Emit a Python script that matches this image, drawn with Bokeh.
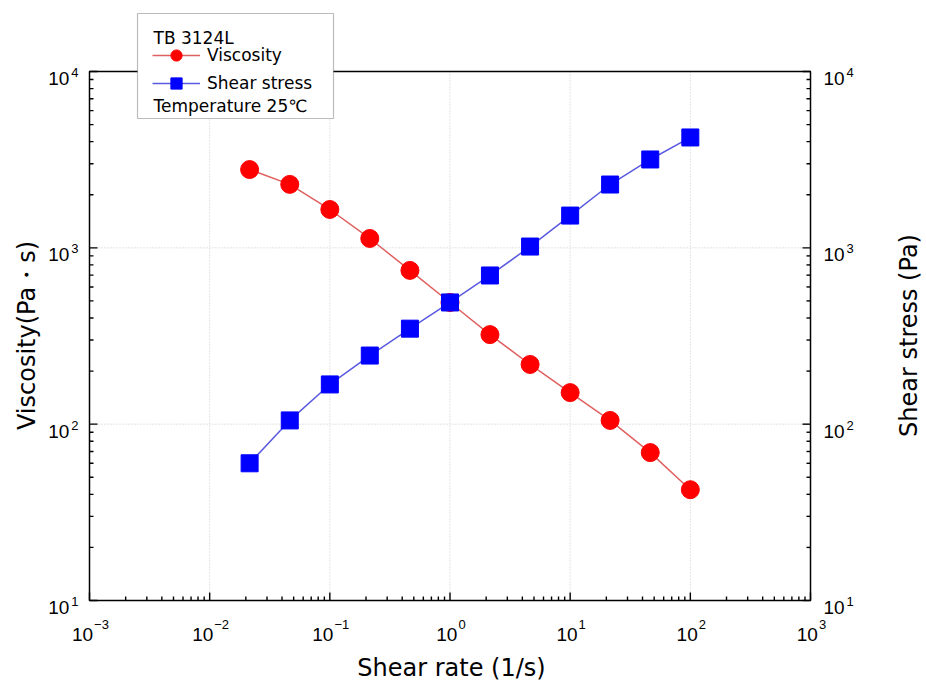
import math
from bokeh.plotting import figure
from bokeh.models import (Range1d, Label, BoxAnnotation, Legend, LegendItem, ColumnDataSource)
from bokeh.core.properties import value
from bokeh.embed import file_html
from bokeh.resources import INLINE

# ---- data ----
shear_rate = [0.0215, 0.0464, 0.1, 0.215, 0.464, 1.0, 2.15, 4.64, 10.0, 21.5, 46.4, 100.0]
viscosity = [2780, 2290, 1650, 1130, 745, 490, 322, 218, 151, 105, 69, 42.5]
shear_stress = [60, 105, 168, 245, 348, 490, 697, 1017, 1524, 2286, 3170, 4226]

x_decades = [-3, -2, -1, 0, 1, 2, 3]     # tick exponents, shear rate axis
y_decades = [1, 2, 3, 4]                 # tick exponents, both vertical axes

x_label = "Shear rate (1/s)"
y_left_label = "Viscosity(Pa・s)"
y_right_label = "Shear stress (Pa)"
legend_title = "TB 3124L"
legend_footer = "Temperature 25℃"
series_names = ["Viscosity", "Shear stress"]

# ---- layout (pixels) ----
W, H = 924, 685
FL, FR, FT, FB = 89, 810, 71, 600          # plotting box edges on the canvas
X_MIN, X_MAX = 10.0 ** x_decades[0], 10.0 ** x_decades[-1]
Y_MIN, Y_MAX = 10.0 ** y_decades[0], 10.0 ** y_decades[-1]
dx = (FR - FL) / (x_decades[-1] - x_decades[0])
dy = (FB - FT) / (y_decades[-1] - y_decades[0])
x_start = 10 ** (x_decades[0] - FL / dx)
x_end = 10 ** (x_decades[0] + (W - FL) / dx)
y_end = 10 ** (y_decades[-1] + FT / dy)
y_start = 10 ** (y_decades[-1] - (H - FT) / dy)

LABEL_FONT = "DejaVu Sans"
TICK_FONT = "Liberation Sans"

p = figure(width=W, height=H, x_axis_type="log", y_axis_type="log",
           x_range=Range1d(x_start, x_end), y_range=Range1d(y_start, y_end),
           x_axis_location=None, y_axis_location=None,
           output_backend="svg", toolbar_location=None, min_border=0)
p.outline_line_color = None
p.background_fill_color = "white"
p.border_fill_color = "white"
for g in p.grid:
    g.visible = False

# ---- grid (dotted, at decades) ----
xg = [10.0 ** k for k in x_decades]
yg = [10.0 ** k for k in y_decades]
p.segment(x0=xg, x1=xg, y0=[Y_MIN] * len(xg), y1=[Y_MAX] * len(xg),
          line_color="#c8c8c8", line_dash="1 2", line_width=1)
p.segment(x0=[X_MIN] * len(yg), x1=[X_MAX] * len(yg), y0=yg, y1=yg,
          line_color="#c8c8c8", line_dash="1 2", line_width=1)

# ---- ticks ----
MAJ, MIN_ = 8, 4
xminor = [m * 10.0 ** k for k in x_decades[:-1] for m in range(2, 10)]
yminor = [m * 10.0 ** k for k in y_decades[:-1] for m in range(2, 10)]

def vticks(xs, length):
    n = len(xs)
    p.segment(x0=xs, x1=xs, y0=[Y_MIN] * n, y1=[Y_MIN * 10 ** (length / dy)] * n,
              line_color="black", line_width=1.4)

def lticks(ys, length):
    n = len(ys)
    p.segment(x0=[X_MIN] * n, x1=[X_MIN * 10 ** (length / dx)] * n, y0=ys, y1=ys,
              line_color="black", line_width=1.4)
    p.segment(x0=[X_MAX] * n, x1=[X_MAX / 10 ** (length / dx)] * n, y0=ys, y1=ys,
              line_color="black", line_width=1.4)

vticks(xg, MAJ); vticks(xminor, MIN_)
lticks(yg, MAJ); lticks(yminor, MIN_)

# ---- box ----
p.quad(left=[X_MIN], right=[X_MAX], bottom=[Y_MIN], top=[Y_MAX],
       fill_color=None, line_color="black", line_width=1.5)

# ---- tick labels (10 with superscript exponent) ----
def exp_text(k):
    return ("−" if k < 0 else "") + str(abs(k))

def exp_width(k):
    return 7.2 * len(str(abs(k))) + (7.6 if k < 0 else 0)

tick_kw = dict(text_baseline="middle", text_color="black", text_font=value(TICK_FONT))

# bottom
bx = [10.0 ** k for k in x_decades]
b_base = ColumnDataSource(dict(x=bx, y=[Y_MIN] * len(bx), t=["10"] * len(bx),
                               xo=[11 - exp_width(k) / 2 for k in x_decades]))
b_exp = ColumnDataSource(dict(x=bx, y=[Y_MIN] * len(bx), t=[exp_text(k) for k in x_decades],
                              xo=[12 - exp_width(k) / 2 for k in x_decades]))
p.text(x="x", y="y", text="t", source=b_base, x_offset="xo", y_offset=34,
       text_align="right", text_font_size="19px", **tick_kw)
p.text(x="x", y="y", text="t", source=b_exp, x_offset="xo", y_offset=24,
       text_align="left", text_font_size="13px", **tick_kw)

# left
ly = [10.0 ** k for k in y_decades]
l_base = ColumnDataSource(dict(x=[X_MIN] * len(ly), y=ly, t=["10"] * len(ly),
                               xo=[-13 - exp_width(k) for k in y_decades]))
l_exp = ColumnDataSource(dict(x=[X_MIN] * len(ly), y=ly, t=[exp_text(k) for k in y_decades]))
p.text(x="x", y="y", text="t", source=l_base, x_offset="xo", y_offset=7,
       text_align="right", text_font_size="19px", **tick_kw)
p.text(x="x", y="y", text="t", source=l_exp, x_offset=-11, y_offset=1,
       text_align="right", text_font_size="13px", **tick_kw)

# right
r_base = ColumnDataSource(dict(x=[X_MAX] * len(ly), y=ly, t=["10"] * len(ly)))
r_exp = ColumnDataSource(dict(x=[X_MAX] * len(ly), y=ly, t=[exp_text(k) for k in y_decades]))
p.text(x="x", y="y", text="t", source=r_base, x_offset=13, y_offset=7,
       text_align="left", text_font_size="19px", **tick_kw)
p.text(x="x", y="y", text="t", source=r_exp, x_offset=36, y_offset=1,
       text_align="left", text_font_size="13px", **tick_kw)

# ---- series ----
r_line = p.line(shear_rate, viscosity, line_color="#e06060", line_width=1.5)
r_pts = p.scatter(shear_rate, viscosity, marker="circle", size=18,
                  fill_color="#ff0000", line_color="#ff0000")
b_line = p.line(shear_rate, shear_stress, line_color="#5a5ae0", line_width=1.5)
b_pts = p.scatter(shear_rate, shear_stress, marker="square", size=17,
                  fill_color="#0000ff", line_color="#0000ff")

# ---- axis labels ----
lab_kw = dict(x_units="screen", y_units="screen", text_font=LABEL_FONT,
              text_color="black", text_align="center", text_baseline="middle")
p.add_layout(Label(x=451, y=H - 667, text=x_label, text_font_size="24px", **lab_kw))
p.add_layout(Label(x=26, y=H - 335, text=y_left_label, angle=math.pi / 2,
                   text_font_size="24px", **lab_kw))
p.add_layout(Label(x=908, y=H - 335, text=y_right_label, angle=math.pi / 2,
                   text_font_size="24px", **lab_kw))

# ---- legend box ----
box = BoxAnnotation(left=137, right=333, top=H - 13, bottom=H - 118,
                    left_units="screen", right_units="screen",
                    top_units="screen", bottom_units="screen",
                    fill_color="white", fill_alpha=1.0,
                    line_color="#222222", line_width=1.2)
p.add_layout(box)
p.add_layout(Label(x=153, y=H - 37, x_units="screen", y_units="screen", text=legend_title,
                   text_font=LABEL_FONT, text_font_size="17px", text_color="black",
                   text_align="left", text_baseline="middle"))
p.add_layout(Label(x=153, y=H - 105, x_units="screen", y_units="screen", text=legend_footer,
                   text_font=LABEL_FONT, text_font_size="17px", text_color="black",
                   text_align="left", text_baseline="middle"))

legend = Legend(items=[LegendItem(label=series_names[0], renderers=[r_line, r_pts]),
                       LegendItem(label=series_names[1], renderers=[b_line, b_pts])],
                location=(152, H - 97), padding=0, margin=0, spacing=0,
                glyph_width=48, glyph_height=28, label_height=28,
                label_standoff=7, label_text_font=LABEL_FONT,
                label_text_font_size="17px", label_text_color="black",
                border_line_alpha=0, background_fill_alpha=0)
p.add_layout(legend, "center")

open("out.html", "w").write(file_html(p, INLINE))
